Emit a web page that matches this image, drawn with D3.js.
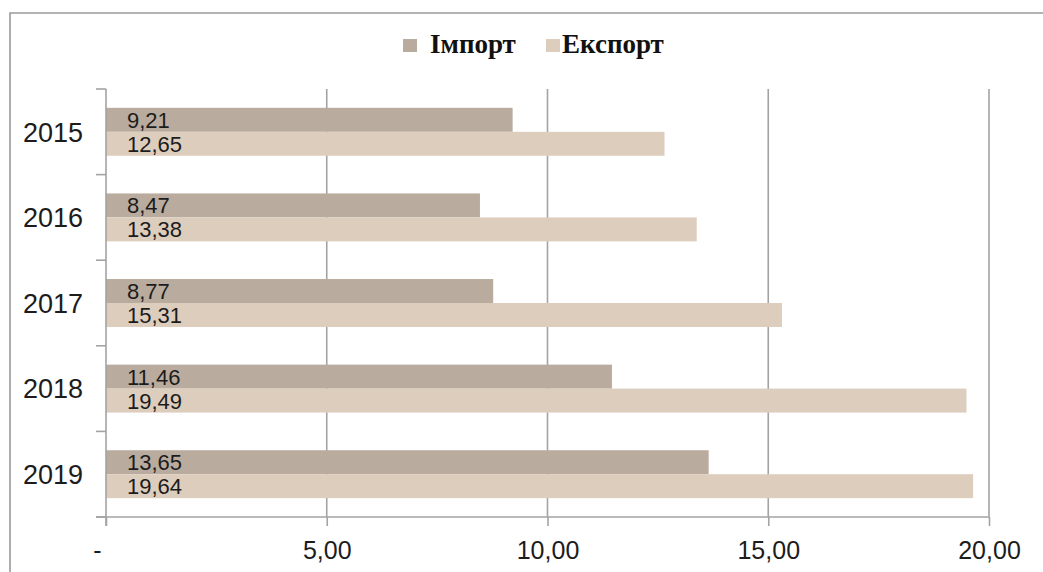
<!DOCTYPE html>
<html>
<head>
<meta charset="utf-8">
<script src="https://cdn.jsdelivr.net/npm/d3@7"></script>
<style>
  html, body { margin: 0; padding: 0; background: #fff; }
  svg { display: block; }
</style>
</head>
<body>
<svg id="chart" width="1043" height="572"></svg>
<script>
// Trade volumes by year
const years = ["2015", "2016", "2017", "2018", "2019"];
const seriesNames = ["Імпорт", "Експорт"];
const importValues = [9.21, 8.47, 8.77, 11.46, 13.65];
const exportValues = [12.65, 13.38, 15.31, 19.49, 19.64];
const xTicks = [0, 5, 10, 15, 20];

const colors = { "Імпорт": "#b9ab9e", "Експорт": "#ddcdbd" };
const axisColor = "#a3a3a3";
const textColor = "#1c1c1c";

const rows = years.map((y, i) => ({
  year: y,
  values: [
    { key: "Імпорт", value: importValues[i] },
    { key: "Експорт", value: exportValues[i] }
  ]
}));

const svg = d3.select("#chart");

// outer frame
svg.append("path")
  .attr("d", "M10,572 L10,13 L1043,13")
  .attr("fill", "none")
  .attr("stroke", "#9a9a9a")
  .attr("stroke-width", 1.6);

const plot = { left: 106, right: 989, top: 89, bottom: 517 };

const x = d3.scaleLinear().domain([0, 20]).range([plot.left, plot.right]);
const y = d3.scaleBand().domain(years).range([plot.top, plot.bottom]).padding(0);
const inner = d3.scaleBand().domain(seriesNames)
  .range([y.bandwidth() * 0.22, y.bandwidth() * 0.78]).padding(0);

const fmt = v => v === 0 ? "-" : d3.format(".2f")(v).replace(".", ",");

// vertical gridlines
svg.append("g")
  .selectAll("line")
  .data(xTicks.filter(t => t > 0))
  .join("line")
  .attr("x1", d => x(d)).attr("x2", d => x(d))
  .attr("y1", plot.top).attr("y2", plot.bottom)
  .attr("stroke", axisColor).attr("stroke-width", 1.6);

// bars
const groups = svg.append("g")
  .selectAll("g")
  .data(rows)
  .join("g")
  .attr("transform", d => `translate(0,${y(d.year)})`);

groups.selectAll("rect")
  .data(d => d.values)
  .join("rect")
  .attr("x", x(0))
  .attr("y", d => inner(d.key))
  .attr("width", d => x(d.value) - x(0))
  .attr("height", inner.bandwidth())
  .attr("fill", d => colors[d.key]);

groups.selectAll("text")
  .data(d => d.values)
  .join("text")
  .attr("x", x(0) + 21)
  .attr("y", d => inner(d.key) + inner.bandwidth() / 2)
  .attr("dy", "0.36em")
  .attr("font-family", "Liberation Sans, Arial, sans-serif")
  .attr("font-size", 22)
  .attr("fill", textColor)
  .text(d => fmt(d.value));

// y axis
const yAxis = svg.append("g")
  .attr("transform", `translate(${plot.left},0)`);
yAxis.append("line")
  .attr("x1", 0).attr("x2", 0)
  .attr("y1", plot.top).attr("y2", plot.bottom + 9)
  .attr("stroke", axisColor).attr("stroke-width", 1.6);
yAxis.selectAll("line.tick")
  .data(years.map(d => y(d)).concat([plot.bottom]))
  .join("line")
  .attr("class", "tick")
  .attr("x1", -10).attr("x2", 0)
  .attr("y1", d => d).attr("y2", d => d)
  .attr("stroke", axisColor).attr("stroke-width", 1.6);
yAxis.selectAll("text")
  .data(years)
  .join("text")
  .attr("x", -23)
  .attr("y", d => y(d) + y.bandwidth() / 2)
  .attr("dy", "0.36em")
  .attr("text-anchor", "end")
  .attr("font-family", "Liberation Sans, Arial, sans-serif")
  .attr("font-size", 27)
  .attr("fill", textColor)
  .text(d => d);

// x axis
const xAxis = svg.append("g")
  .attr("transform", `translate(0,${plot.bottom})`)
  .call(d3.axisBottom(x).tickValues(xTicks).tickFormat(fmt).tickSize(9).tickSizeOuter(0));
xAxis.select(".domain")
  .attr("d", `M${plot.left - 10},0H${plot.right}`)
  .attr("stroke", axisColor).attr("stroke-width", 1.6);
xAxis.selectAll(".tick line").attr("stroke", axisColor).attr("stroke-width", 1.6);
xAxis.selectAll(".tick text")
  .attr("font-family", "Liberation Sans, Arial, sans-serif")
  .attr("font-size", 25)
  .attr("fill", textColor)
  .attr("y", 24)
  .attr("dx", d => d === 0 ? -9 : 0)
  .attr("dy", "0.71em");

// legend
const legendItems = [
  { key: "Імпорт", sx: 403, tx: 430 },
  { key: "Експорт", sx: 546, tx: 562 }
];
const legend = svg.append("g");
legend.selectAll("rect")
  .data(legendItems)
  .join("rect")
  .attr("x", d => d.sx).attr("y", 39)
  .attr("width", 14).attr("height", 13)
  .attr("fill", d => colors[d.key]);
legend.selectAll("text")
  .data(legendItems)
  .join("text")
  .attr("x", d => d.tx).attr("y", 53)
  .attr("font-family", "Liberation Serif, Times New Roman, serif")
  .attr("font-weight", "bold")
  .attr("font-size", 27)
  .attr("fill", "#111")
  .text(d => d.key);
</script>
</body>
</html>
